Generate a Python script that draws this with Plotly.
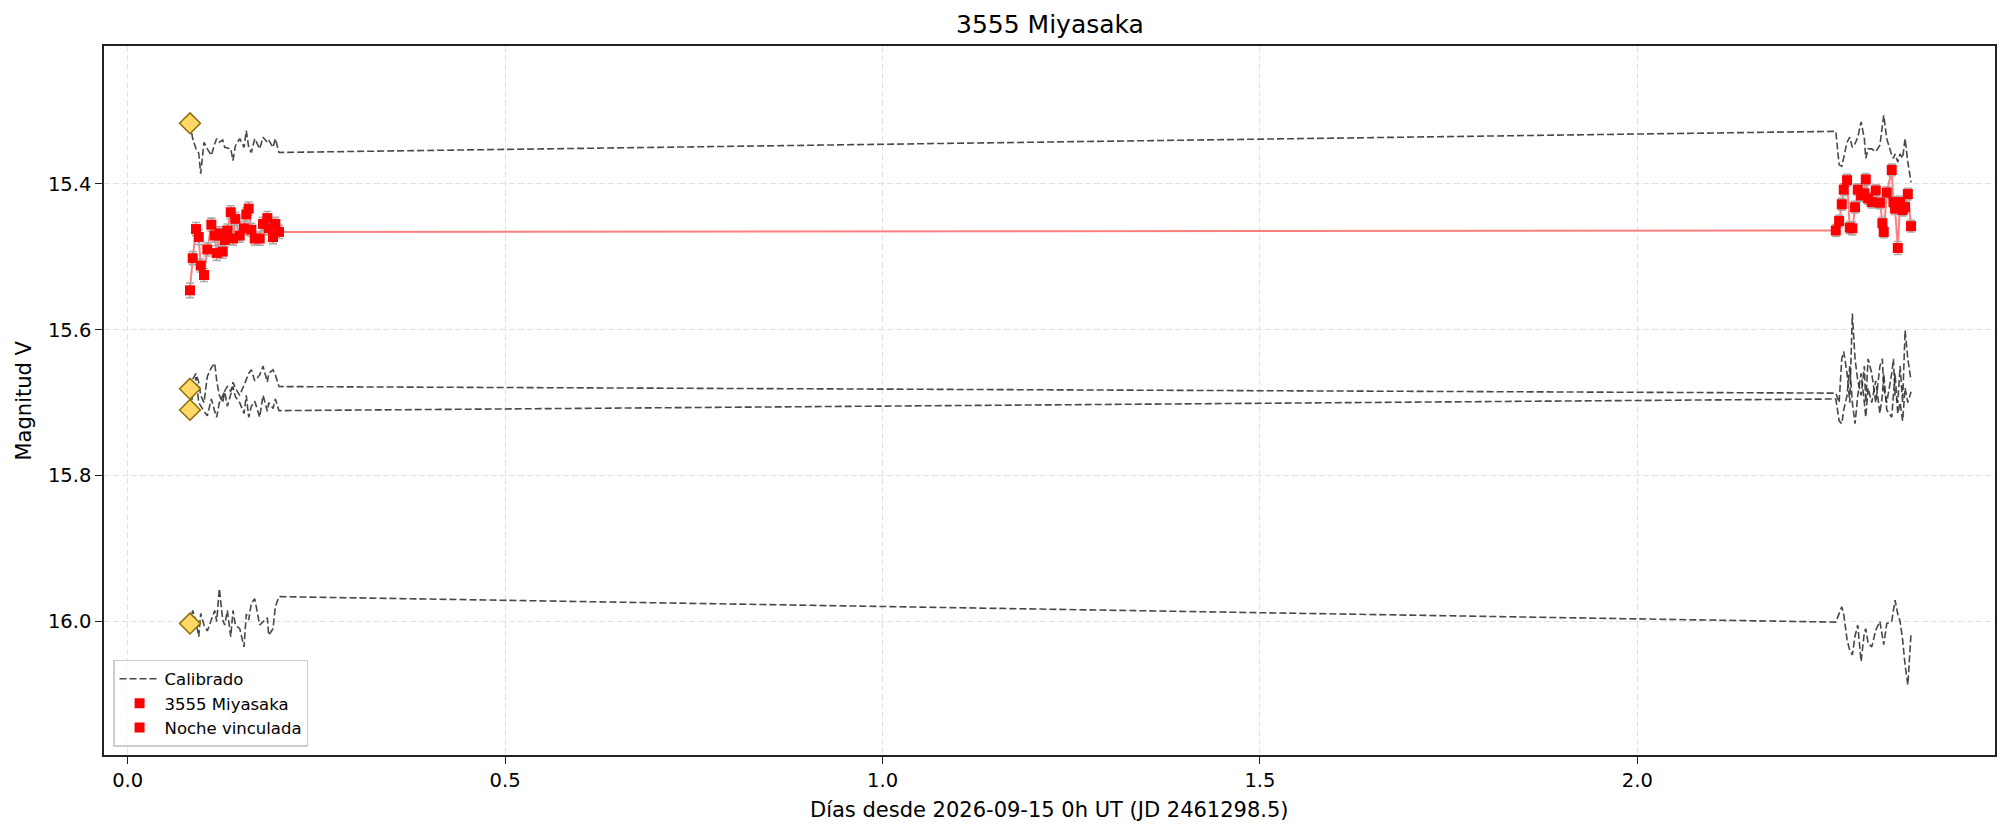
import plotly.graph_objects as go

# ---------------- data ----------------
t_night1 = [0.0825, 0.0861, 0.0905, 0.0941, 0.0967, 0.1011, 0.1055, 0.1108, 0.1153, 0.1179,
            0.1214, 0.1259, 0.1285, 0.1320, 0.1365, 0.1395, 0.1426, 0.1484, 0.1541, 0.1571,
            0.1603, 0.1638, 0.1683, 0.1749, 0.1793, 0.1850, 0.1868, 0.1925, 0.1956, 0.2004]
t_night2 = [2.2629, 2.2673, 2.2708, 2.2734, 2.2778, 2.2814, 2.2848, 2.2884, 2.2920, 2.2964,
            2.3007, 2.3026, 2.3057, 2.3105, 2.3158, 2.3213, 2.3246, 2.3264, 2.3304, 2.3370,
            2.3392, 2.3414, 2.3450, 2.3481, 2.3514, 2.3547, 2.3583, 2.3626]

target_night1 = [15.546, 15.502, 15.462, 15.473, 15.512, 15.525, 15.490, 15.456, 15.471, 15.495,
                 15.468, 15.493, 15.477, 15.464, 15.439, 15.475, 15.448, 15.471, 15.461, 15.442,
                 15.434, 15.463, 15.475, 15.475, 15.455, 15.447, 15.461, 15.473, 15.455, 15.466]
target_night2 = [15.464, 15.451, 15.428, 15.408, 15.395, 15.460, 15.461, 15.432, 15.408, 15.416,
                 15.413, 15.394, 15.420, 15.425, 15.409, 15.426, 15.454, 15.466, 15.412, 15.381,
                 15.425, 15.434, 15.488, 15.425, 15.436, 15.432, 15.414, 15.458]
err_night1 = [0.010, 0.009, 0.009, 0.010, 0.009, 0.009, 0.009, 0.009, 0.009, 0.010,
              0.009, 0.009, 0.009, 0.009, 0.009, 0.009, 0.009, 0.009, 0.009, 0.009,
              0.009, 0.009, 0.009, 0.009, 0.009, 0.009, 0.009, 0.009, 0.009, 0.009]
err_night2 = [0.008, 0.008, 0.008, 0.008, 0.008, 0.008, 0.009, 0.008, 0.008, 0.008,
              0.008, 0.008, 0.008, 0.008, 0.008, 0.008, 0.008, 0.008, 0.008, 0.008,
              0.008, 0.008, 0.009, 0.008, 0.008, 0.008, 0.008, 0.008]

comp1_night1 = [15.317, 15.338, 15.352, 15.358, 15.386, 15.343, 15.352, 15.361, 15.345, 15.338,
                15.343, 15.340, 15.350, 15.351, 15.352, 15.368, 15.348, 15.338, 15.350, 15.327,
                15.350, 15.357, 15.338, 15.352, 15.336, 15.343, 15.340, 15.350, 15.338, 15.357]
comp1_night2 = [15.328, 15.374, 15.376, 15.364, 15.343, 15.336, 15.350, 15.345, 15.336, 15.315,
                15.338, 15.365, 15.352, 15.352, 15.356, 15.347, 15.320, 15.306, 15.338, 15.361,
                15.365, 15.359, 15.370, 15.359, 15.365, 15.338, 15.370, 15.398]
comp2_night1 = [15.681, 15.668, 15.660, 15.672, 15.690, 15.700, 15.664, 15.652, 15.646, 15.670,
                15.690, 15.700, 15.684, 15.678, 15.685, 15.672, 15.680, 15.690, 15.676, 15.668,
                15.660, 15.655, 15.670, 15.662, 15.650, 15.672, 15.660, 15.655, 15.662, 15.678]
comp2_night2 = [15.687, 15.700, 15.640, 15.630, 15.660, 15.700, 15.578, 15.640, 15.670, 15.690,
                15.650, 15.700, 15.640, 15.660, 15.700, 15.650, 15.640, 15.680, 15.700, 15.660,
                15.640, 15.690, 15.700, 15.650, 15.700, 15.601, 15.640, 15.670]
comp3_night1 = [15.710, 15.690, 15.665, 15.700, 15.705, 15.712, 15.718, 15.695, 15.712, 15.720,
                15.700, 15.690, 15.685, 15.705, 15.688, 15.678, 15.692, 15.700, 15.715, 15.690,
                15.720, 15.705, 15.698, 15.720, 15.690, 15.712, 15.700, 15.708, 15.695, 15.711]
comp3_night2 = [15.695, 15.725, 15.729, 15.710, 15.690, 15.650, 15.700, 15.729, 15.690, 15.660,
                15.700, 15.720, 15.680, 15.700, 15.670, 15.715, 15.690, 15.660, 15.710, 15.720,
                15.690, 15.660, 15.715, 15.700, 15.725, 15.680, 15.700, 15.685]
comp4_night1 = [16.003, 15.985, 16.000, 16.021, 15.989, 16.005, 16.013, 15.998, 15.985, 16.000,
                15.955, 15.998, 16.005, 15.985, 16.021, 15.985, 16.005, 16.010, 16.035, 15.990,
                15.998, 15.975, 15.969, 16.005, 16.000, 15.995, 16.019, 16.010, 15.980, 15.966]
comp4_night2 = [16.001, 15.990, 15.980, 15.990, 16.025, 16.040, 16.046, 16.020, 16.005, 16.055,
                16.015, 16.010, 16.030, 16.035, 16.012, 16.000, 16.020, 16.032, 16.003, 16.000,
                15.985, 15.971, 15.990, 16.000, 16.025, 16.060, 16.087, 16.016]

x_tick_vals = [0.0, 0.5, 1.0, 1.5, 2.0]
x_tick_text = ["0.0", "0.5", "1.0", "1.5", "2.0"]
y_tick_vals = [15.4, 15.6, 15.8, 16.0]
y_tick_text = ["15.4", "15.6", "15.8", "16.0"]

title_text = "3555 Miyasaka"
x_title = "Días desde 2026-09-15 0h UT (JD 2461298.5)"
y_title = "Magnitud V"

# ---------------- figure ----------------
FONT = "DejaVu Sans"
W, H = 2012, 834
OFF = 8  # page body margin
ML, MT = 104 - OFF, 46 - OFF
MR = W - (1995 - OFF)
MB = H - (754.7 - OFF)
PW, PH = W - ML - MR, H - MT - MB

t_all = t_night1 + t_night2
comps = [comp1_night1 + comp1_night2, comp2_night1 + comp2_night2,
         comp3_night1 + comp3_night2, comp4_night1 + comp4_night2]

fig = go.Figure()

for i, c in enumerate(comps):
    fig.add_trace(go.Scatter(
        x=t_all, y=c, mode="lines",
        line=dict(color="rgba(40,40,40,0.85)", width=1.6, dash="7px,3px"),
        name="Calibrado", showlegend=(i == 0), legendgroup="cal"))

fig.add_trace(go.Scatter(
    x=t_all, y=target_night1 + target_night2, mode="lines",
    line=dict(color="rgba(255,0,0,0.5)", width=2), showlegend=False))

for name, tt, yy, ee in [("3555 Miyasaka", t_night1, target_night1, err_night1),
                         ("Noche vinculada", t_night2, target_night2, err_night2)]:
    fig.add_trace(go.Scatter(
        x=tt, y=yy, mode="markers", name=name,
        marker=dict(symbol="square", size=10, color="#ff0000", line=dict(width=0)),
        error_y=dict(type="data", array=ee, visible=True, color="#aaaaaa",
                     thickness=1.6, width=4)))

fig.add_trace(go.Scatter(
    x=[t_all[0]] * 4, y=[c[0] for c in comps], mode="markers", showlegend=False,
    marker=dict(symbol="diamond", size=16, color="#ffd966",
                line=dict(color="#8b6d0a", width=1.5))))

axis_common = dict(
    showline=True, mirror=True, linecolor="#222222", linewidth=1.6,
    ticks="outside", ticklen=7, tickwidth=1.4, tickcolor="#222222",
    showgrid=True, gridcolor="#e2e2e2", gridwidth=1.3, griddash="6px,3px",
    zeroline=False, automargin=False,
    tickfont=dict(family=FONT, size=19.5, color="#000000"),
)

fig.update_layout(
    width=W, height=H,
    margin=dict(l=ML, r=MR, t=MT, b=MB),
    paper_bgcolor="white", plot_bgcolor="white",
    font=dict(family=FONT, color="#000000"),
    xaxis=dict(range=[-0.0314, 2.4738], tickvals=x_tick_vals, ticktext=x_tick_text,
               **axis_common),
    yaxis=dict(range=[16.1832, 15.2110], tickvals=y_tick_vals, ticktext=y_tick_text,
               **axis_common),
    legend=dict(x=0.0048, y=0.0113, xanchor="left", yanchor="bottom",
                bgcolor="rgba(255,255,255,0.8)", bordercolor="#cccccc", borderwidth=1.5,
                font=dict(family=FONT, size=16.5, color="#000000"),
                tracegroupgap=0, itemwidth=40),
    showlegend=True,
    annotations=[
        dict(text=title_text, xref="paper", yref="paper", x=0.5, y=1 + 21.3 / PH,
             xanchor="center", yanchor="middle", showarrow=False,
             font=dict(family=FONT, size=25, color="#000000")),
        dict(text=x_title, xref="paper", yref="paper", x=0.5, y=-(809.7 - 754.7) / PH,
             xanchor="center", yanchor="middle", showarrow=False,
             font=dict(family=FONT, size=21, color="#000000")),
        dict(text=y_title, xref="paper", yref="paper", x=-(104 - 23) / PW, y=0.5,
             xanchor="center", yanchor="middle", textangle=-90, showarrow=False,
             font=dict(family=FONT, size=21, color="#000000")),
    ],
)

fig.write_html("out.html")
